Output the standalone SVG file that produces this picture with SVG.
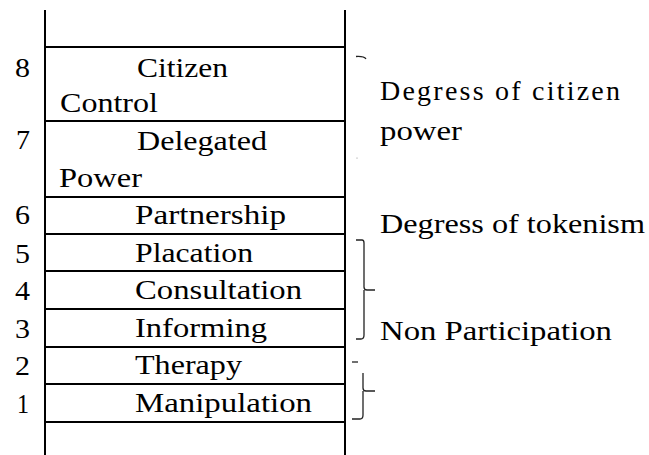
<svg xmlns="http://www.w3.org/2000/svg" width="649" height="455" viewBox="0 0 649 455">
  <style>
    .rail { stroke: #000; stroke-width: 2; fill: none; }
    .rung { stroke: #000; stroke-width: 2; fill: none; }
    .brace { stroke: #222; stroke-width: 1.3; fill: none; }
    .t { font-family: 'Liberation Serif', 'DejaVu Serif', serif; font-size: 28px; fill: #000; }
  </style>
  <rect width="649" height="455" fill="#fff"/>

  <!-- ladder frame -->
  <g id="ladder">
    <line class="rail" x1="45" y1="10" x2="45" y2="455"/>
    <line class="rail" x1="345" y1="10" x2="345" y2="455"/>
    <line class="rung" x1="45" y1="47" x2="345" y2="47"/>
    <line class="rung" x1="45" y1="121" x2="345" y2="121"/>
    <line class="rung" x1="45" y1="197" x2="345" y2="197"/>
    <line class="rung" x1="45" y1="234" x2="345" y2="234"/>
    <line class="rung" x1="45" y1="271" x2="345" y2="271"/>
    <line class="rung" x1="45" y1="309" x2="345" y2="309"/>
    <line class="rung" x1="45" y1="347" x2="345" y2="347"/>
    <line class="rung" x1="45" y1="384" x2="345" y2="384"/>
    <line class="rung" x1="45" y1="422" x2="345" y2="422"/>
  </g>

  <!-- rungs of participation -->
  <g id="rung-8" class="t">
    <text x="15" y="77" textLength="15" lengthAdjust="spacingAndGlyphs">8</text>
    <text x="137" y="77" textLength="91" lengthAdjust="spacingAndGlyphs">Citizen</text>
    <text x="60" y="112" textLength="98" lengthAdjust="spacingAndGlyphs">Control</text>
  </g>
  <g id="rung-7" class="t">
    <text x="16" y="149" textLength="14" lengthAdjust="spacingAndGlyphs">7</text>
    <text x="137" y="150" textLength="130" lengthAdjust="spacingAndGlyphs">Delegated</text>
    <text x="59" y="187" textLength="83" lengthAdjust="spacingAndGlyphs">Power</text>
  </g>
  <g id="rung-6" class="t">
    <text x="15" y="224" textLength="15" lengthAdjust="spacingAndGlyphs">6</text>
    <text x="135" y="224" textLength="151" lengthAdjust="spacingAndGlyphs">Partnership</text>
  </g>
  <g id="rung-5" class="t">
    <text x="15" y="263" textLength="15" lengthAdjust="spacingAndGlyphs">5</text>
    <text x="135" y="262" textLength="118" lengthAdjust="spacingAndGlyphs">Placation</text>
  </g>
  <g id="rung-4" class="t">
    <text x="15" y="300" textLength="15" lengthAdjust="spacingAndGlyphs">4</text>
    <text x="135" y="299" textLength="167" lengthAdjust="spacingAndGlyphs">Consultation</text>
  </g>
  <g id="rung-3" class="t">
    <text x="15" y="338" textLength="15" lengthAdjust="spacingAndGlyphs">3</text>
    <text x="135" y="337" textLength="132" lengthAdjust="spacingAndGlyphs">Informing</text>
  </g>
  <g id="rung-2" class="t">
    <text x="15" y="375" textLength="15" lengthAdjust="spacingAndGlyphs">2</text>
    <text x="135" y="374" textLength="107" lengthAdjust="spacingAndGlyphs">Therapy</text>
  </g>
  <g id="rung-1" class="t">
    <text x="17" y="413" textLength="12" lengthAdjust="spacingAndGlyphs">1</text>
    <text x="135" y="412" textLength="177" lengthAdjust="spacingAndGlyphs">Manipulation</text>
  </g>

  <!-- group labels -->
  <g id="label-citizen-power" class="t">
    <text x="380" y="100" textLength="240" lengthAdjust="spacing">Degress of citizen</text>
    <text x="380" y="140" textLength="82" lengthAdjust="spacingAndGlyphs">power</text>
  </g>
  <g id="label-tokenism" class="t">
    <text x="380" y="233" textLength="265" lengthAdjust="spacingAndGlyphs">Degress of tokenism</text>
  </g>
  <g id="label-non-participation" class="t">
    <text x="380" y="340" textLength="232" lengthAdjust="spacingAndGlyphs">Non Participation</text>
  </g>

  <!-- braces -->
  <g id="braces">
    <path class="brace" d="M356,56.5 Q364,56 366,59"/>
    <circle cx="357" cy="158" r="0.6" fill="#888"/>
    <path class="brace" d="M356,240 L362,240 Q364,240 364,243 L364,287 Q364,290 367,290 L375,290 M364,290 Q364,293 364,295 L364,335 Q364,339 361,339 L356,339"/>
    <line class="brace" x1="352" y1="362" x2="358" y2="362"/>
    <path class="brace" d="M363,373 L363,388 Q363,391 366,391 L375,391 M363,391 L363,415 Q363,419 360,419 L352,419"/>
  </g>
</svg>
